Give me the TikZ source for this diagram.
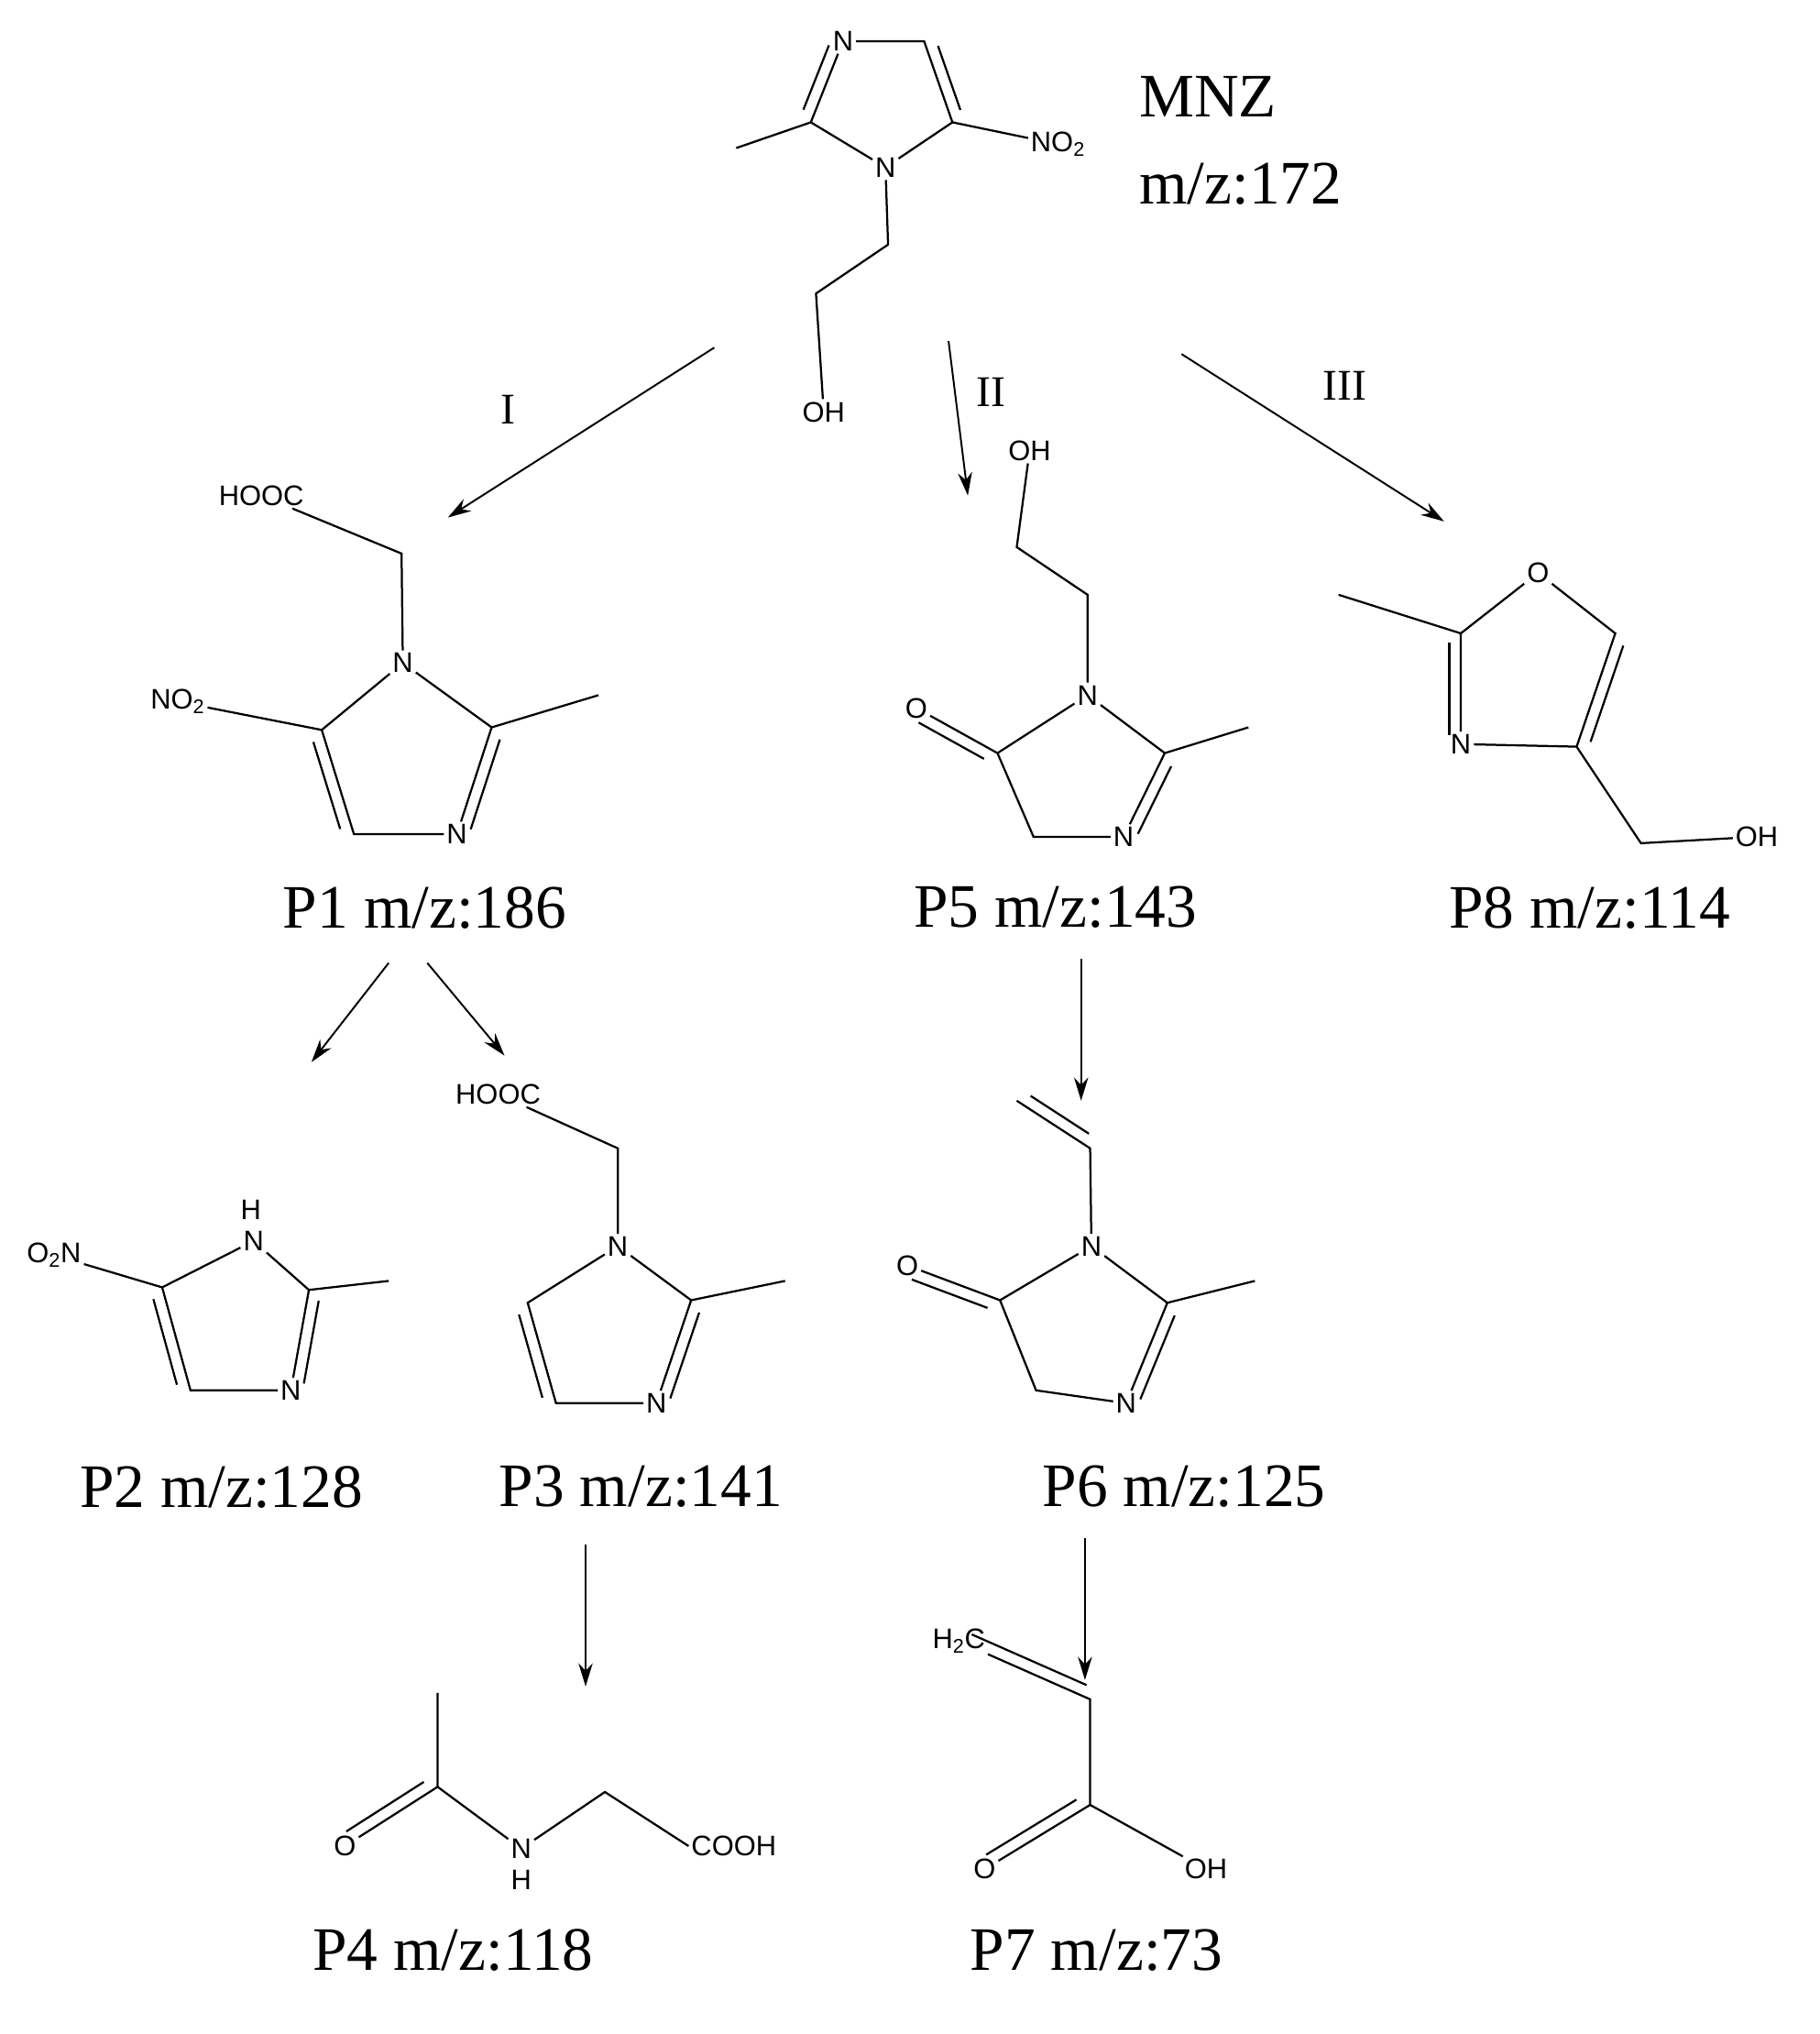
\documentclass[tikz,border=0pt]{standalone}
\usepackage{fontspec}
\setmainfont{Liberation Serif}
\newfontfamily\atomf{Liberation Sans}
\usetikzlibrary{calc,arrows.meta}
\tikzset{
 atm/.style={font=\atomf\fontsize{22}{24}\selectfont, inner sep=2pt},
 lab/.style={font=\fontsize{48}{52}\selectfont, inner sep=0pt},
 rom/.style={font=\fontsize{34}{36}\selectfont, inner sep=0pt},
 bd/.style={line width=1.6pt},
 arr/.style={line width=1.4pt,-{Stealth[length=18pt,width=11pt]}}
}
\newcommand{\dbl}[3]{\draw[bd,shorten >=7pt,shorten <=7pt] ($(#1)!9pt!#3:(#2)$) -- ($(#2)!9pt!-#3:(#1)$);}
\begin{document}
\begin{tikzpicture}[x=1pt,y=-1pt]
\useasboundingbox[fill=white] (0,0) rectangle (1414,1580);
% MNZ
\node[atm] (m3) at (655,32) {N};
\coordinate (m4) at (718,32);
\coordinate (m5) at (740,95);
\node[atm] (m1) at (688,130) {N};
\coordinate (m2) at (630,95);
\coordinate (mme) at (572,115);
\node[atm] (mno) at (822,112) {NO\textsubscript{2}};
\coordinate (mc1) at (690,190);
\coordinate (mc2) at (634,228);
\node[atm] (moh) at (640,320) {OH};
\draw[bd] (m3)--(m4)--(m5)--(m1)--(m2)--(m3);
\dbl{m2}{m3}{90}\dbl{m4}{m5}{90}
\draw[bd] (m2)--(mme); \draw[bd] (m5)--(mno);
\draw[bd] (m1)--(mc1)--(mc2)--(moh);
\node[lab,anchor=west] (mnz) at (885,75) {MNZ};
\node[lab,anchor=west] (mnzm) at (885,143) {m/z:172};
% arrows
\coordinate (a1s) at (555,270); \coordinate (a1e) at (348,402);
\coordinate (a2s) at (737,265); \coordinate (a2e) at (752,385);
\coordinate (a3s) at (918,275); \coordinate (a3e) at (1122,405);
\draw[arr] (a1s)--(a1e); \draw[arr] (a2s)--(a2e); \draw[arr] (a3s)--(a3e);
\node[rom] (r1) at (395,318) {I};
\node[rom] (r2) at (770,305) {II};
\node[rom] (r3) at (1045,300) {III};
% P1
\node[atm] (p1h) at (203,385) {HOOC};
\coordinate (p1c) at (312,430);
\node[atm] (p1n1) at (313,515) {N};
\coordinate (p1c5) at (250,567);
\coordinate (p1c4) at (275,648);
\node[atm] (p1n3) at (355,648) {N};
\coordinate (p1c2) at (382,565);
\coordinate (p1me) at (465,540);
\node[atm] (p1no) at (138,545) {NO\textsubscript{2}};
\draw[bd] (p1h)--(p1c)--(p1n1);
\draw[bd] (p1n1)--(p1c2)--(p1n3)--(p1c4)--(p1c5)--(p1n1);
\dbl{p1c4}{p1c5}{90}\dbl{p1c2}{p1n3}{90}
\draw[bd] (p1c2)--(p1me); \draw[bd] (p1c5)--(p1no);
\node[lab] (p1l) at (330,705) {P1 m/z:186};
\coordinate (b1s) at (302,748); \coordinate (b1e) at (242,825);
\coordinate (b2s) at (332,748); \coordinate (b2e) at (392,820);
\draw[arr] (b1s)--(b1e); \draw[arr] (b2s)--(b2e);
% P2
\node[atm] (p2hh) at (195,940) {H};
\node[atm] (p2n1) at (197,964) {N};
\coordinate (p2c2) at (240,1002);
\coordinate (p2me) at (302,995);
\node[atm] (p2n3) at (226,1080) {N};
\coordinate (p2c4) at (148,1080);
\coordinate (p2c5) at (126,1000);
\node[atm] (p2no) at (42,975) {O\textsubscript{2}N};
\draw[bd] (p2n1)--(p2c2)--(p2n3)--(p2c4)--(p2c5)--(p2n1);
\dbl{p2c4}{p2c5}{90}\dbl{p2c2}{p2n3}{90}
\draw[bd] (p2c2)--(p2me); \draw[bd] (p2c5)--(p2no);
\node[lab] (p2l) at (172,1155) {P2 m/z:128};
% P3
\node[atm] (p3h) at (387,850) {HOOC};
\coordinate (p3c) at (480,892);
\node[atm] (p3n1) at (480,968) {N};
\coordinate (p3c2) at (537,1010);
\coordinate (p3me) at (610,995);
\node[atm] (p3n3) at (510,1090) {N};
\coordinate (p3c4) at (432,1090);
\coordinate (p3c5) at (410,1012);
\draw[bd] (p3h)--(p3c)--(p3n1);
\draw[bd] (p3n1)--(p3c2)--(p3n3)--(p3c4)--(p3c5)--(p3n1);
\dbl{p3c4}{p3c5}{90}\dbl{p3c2}{p3n3}{90}
\draw[bd] (p3c2)--(p3me);
\node[lab] (p3l) at (498,1155) {P3 m/z:141};
\coordinate (c1s) at (455,1200); \coordinate (c1e) at (455,1310);
\draw[arr] (c1s)--(c1e);
% P4
\coordinate (p4me) at (340,1315);
\coordinate (p4c) at (340,1388);
\node[atm] (p4o) at (268,1434) {O};
\node[atm] (p4n) at (405,1436) {N};
\node[atm] (p4nh) at (405,1460) {H};
\coordinate (p4ch) at (470,1392);
\node[atm,anchor=west] (p4co) at (535,1434) {COOH};
\draw[bd] (p4me)--(p4c)--(p4n)--(p4ch)--(p4co.west);
\draw[bd] (p4c)--(p4o); \dbl{p4c}{p4o}{-90}
\node[lab] (p4l) at (352,1515) {P4 m/z:118};
% P5
\node[atm] (p5oh) at (800,350) {OH};
\coordinate (p5a) at (790,425);
\coordinate (p5b) at (845,462);
\node[atm] (p5n1) at (845,540) {N};
\coordinate (p5c2) at (905,585);
\coordinate (p5me) at (970,565);
\node[atm] (p5n3) at (873,650) {N};
\coordinate (p5c4) at (803,650);
\coordinate (p5c5) at (775,585);
\node[atm] (p5o) at (712,550) {O};
\draw[bd] (p5oh)--(p5a)--(p5b)--(p5n1);
\draw[bd] (p5n1)--(p5c2)--(p5n3)--(p5c4)--(p5c5)--(p5n1);
\dbl{p5c2}{p5n3}{90}
\draw[bd] (p5c2)--(p5me); \draw[bd] (p5c5)--(p5o); \dbl{p5c5}{p5o}{90}
\node[lab] (p5l) at (820,705) {P5 m/z:143};
\coordinate (d1s) at (840,745); \coordinate (d1e) at (840,855);
\draw[arr] (d1s)--(d1e);
% P6
\coordinate (p6a) at (790,855);
\coordinate (p6b) at (847,892);
\node[atm] (p6n1) at (848,968) {N};
\coordinate (p6c2) at (907,1012);
\coordinate (p6me) at (975,995);
\node[atm] (p6n3) at (875,1090) {N};
\coordinate (p6c4) at (805,1080);
\coordinate (p6c5) at (777,1010);
\node[atm] (p6o) at (705,983) {O};
\draw[bd] (p6a)--(p6b)--(p6n1); \dbl{p6a}{p6b}{90}
\draw[bd] (p6n1)--(p6c2)--(p6n3)--(p6c4)--(p6c5)--(p6n1);
\dbl{p6c2}{p6n3}{90}
\draw[bd] (p6c2)--(p6me); \draw[bd] (p6c5)--(p6o); \dbl{p6c5}{p6o}{90}
\node[lab] (p6l) at (920,1155) {P6 m/z:125};
\coordinate (e1s) at (843,1195); \coordinate (e1e) at (843,1305);
\draw[arr] (e1s)--(e1e);
% P7
\node[atm] (p7h) at (745,1275) {H\textsubscript{2}C};
\coordinate (p7a) at (847,1320);
\coordinate (p7b) at (847,1402);
\node[atm] (p7o) at (765,1452) {O};
\node[atm] (p7oh) at (937,1452) {OH};
\draw[bd] (p7h)--(p7a)--(p7b)--(p7oh); \dbl{p7h}{p7a}{90}
\draw[bd] (p7b)--(p7o); \dbl{p7b}{p7o}{-90}
\node[lab] (p7l) at (852,1515) {P7 m/z:73};
% P8
\node[atm] (p8o) at (1195,445) {O};
\coordinate (p8c2) at (1135,492);
\coordinate (p8me) at (1040,462);
\node[atm] (p8n3) at (1135,578) {N};
\coordinate (p8c4) at (1225,580);
\coordinate (p8c5) at (1255,492);
\coordinate (p8ch) at (1275,655);
\node[atm] (p8oh) at (1365,650) {OH};
\draw[bd] (p8o)--(p8c2)--(p8n3)--(p8c4)--(p8c5)--(p8o);
\dbl{p8c2}{p8n3}{-90}\dbl{p8c4}{p8c5}{-90}
\draw[bd] (p8c2)--(p8me); \draw[bd] (p8c4)--(p8ch)--(p8oh);
\node[lab] (p8l) at (1235,705) {P8 m/z:114};
\end{tikzpicture}
\end{document}
